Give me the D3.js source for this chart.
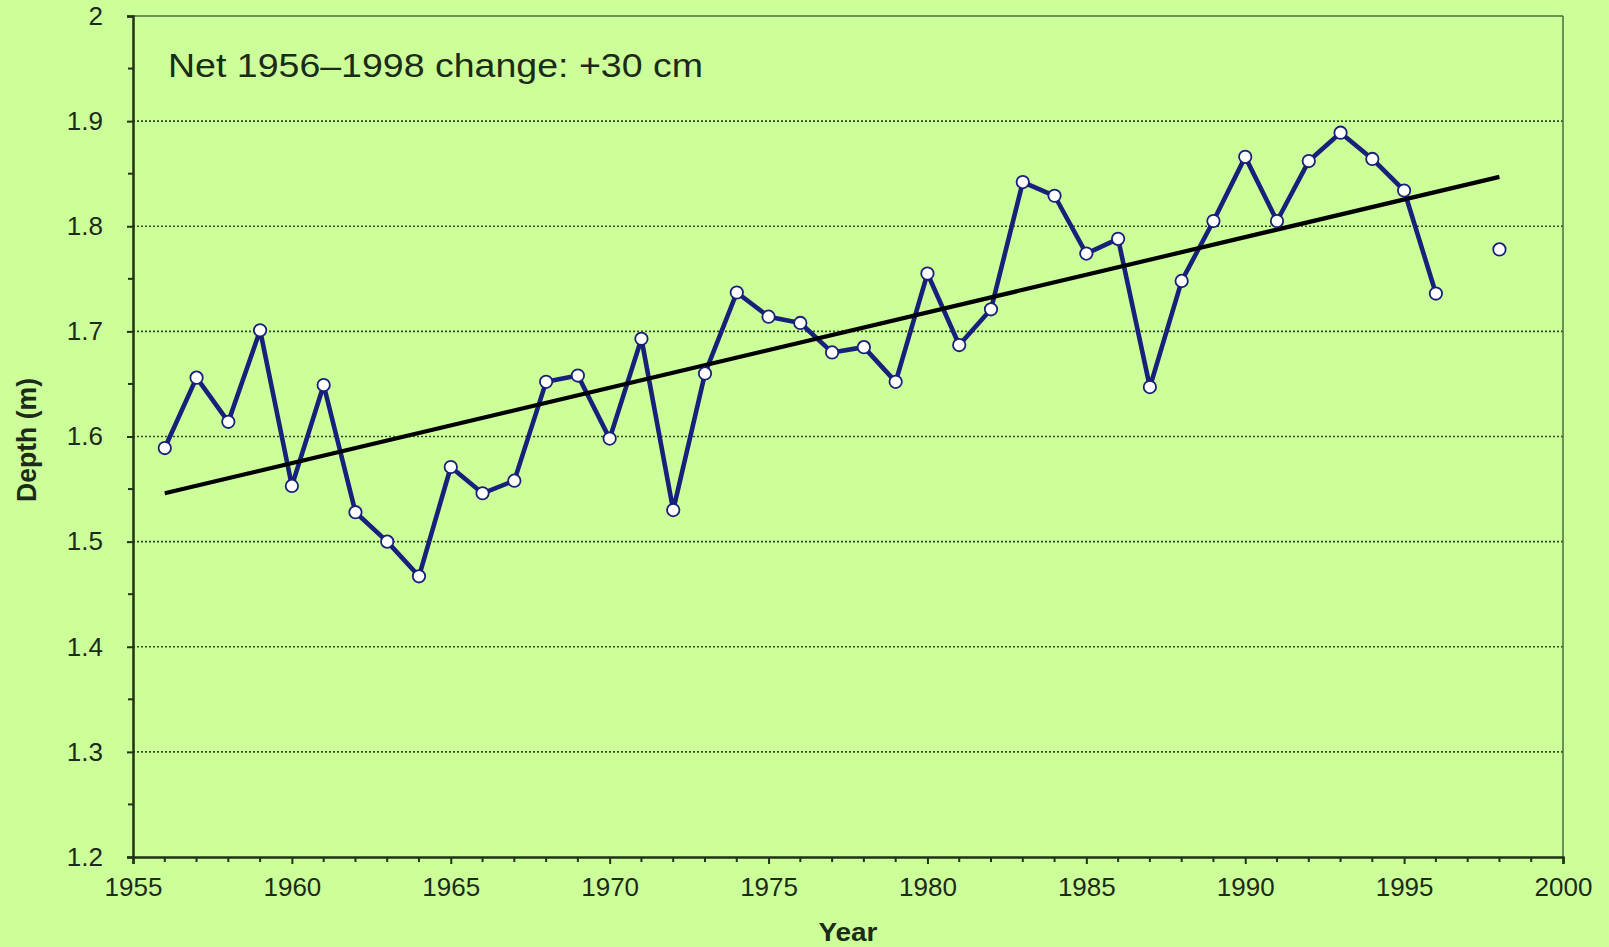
<!DOCTYPE html>
<html>
<head>
<meta charset="utf-8">
<script src="https://cdn.jsdelivr.net/npm/d3@7"></script>
<style>
  html, body { margin: 0; padding: 0; background: #ccff99; }
  svg { display: block; }
  text { font-family: Arial, "Liberation Sans", sans-serif; fill: #1c2a18; }
</style>
</head>
<body>
<svg id="chart" width="1609" height="947"></svg>
<script>
// ---- data ----
const years = [1956,1957,1958,1959,1960,1961,1962,1963,1964,1965,1966,1967,1968,1969,1970,
               1971,1972,1973,1974,1975,1976,1977,1978,1979,1980,1981,1982,1983,1984,1985,
               1986,1987,1988,1989,1990,1991,1992,1993,1994,1995,1996,1997,1998];
const depth = [1.589,1.656,1.614,1.701,1.553,1.649,1.528,1.500,1.467,1.571,1.546,1.558,1.652,1.658,1.598,
               1.693,1.530,1.660,1.737,1.714,1.708,1.680,1.685,1.652,1.755,1.687,1.721,1.842,1.829,1.774,
               1.788,1.647,1.748,1.805,1.866,1.805,1.862,1.889,1.864,1.834,1.736,null,1.778];
const trendYears = [1956, 1998];
const trendValues = [1.546, 1.847];
const xTicks = [1955,1960,1965,1970,1975,1980,1985,1990,1995,2000];
const yTicks = [1.2,1.3,1.4,1.5,1.6,1.7,1.8,1.9,2];
const annotation = "Net 1956\u20131998 change: +30 cm";
const xTitle = "Year";
const yTitle = "Depth (m)";

// ---- layout ----
const L = 133, R = 1563, T = 16, B = 857;
const svg = d3.select("#chart");
const x = d3.scaleLinear().domain([1955, 2000]).range([L, R]);
const y = d3.scaleLinear().domain([1.2, 2]).range([B, T]);

svg.append("rect").attr("width", 1609).attr("height", 947).attr("fill", "#ccff99");

// gridlines
svg.append("g").selectAll("line")
  .data(yTicks.filter(v => v > 1.2 && v < 2))
  .join("line")
  .attr("x1", L).attr("x2", R)
  .attr("y1", d => y(d)).attr("y2", d => y(d))
  .attr("stroke", "#2f4a22").attr("stroke-width", 1.6)
  .attr("stroke-dasharray", "2,2");

// frame top/right
svg.append("line").attr("x1", L).attr("x2", R).attr("y1", T).attr("y2", T)
  .attr("stroke", "#4b6b3a").attr("stroke-width", 1.5);
svg.append("line").attr("x1", R).attr("x2", R).attr("y1", T).attr("y2", B)
  .attr("stroke", "#4b6b3a").attr("stroke-width", 1.5);

// y axis
const yAxis = d3.axisLeft(y).tickValues(yTicks).tickSize(6).tickPadding(24)
  .tickFormat(d => d3.format("")(+d.toFixed(1)));
const gy = svg.append("g").attr("transform", `translate(${L},0)`).call(yAxis);
gy.select(".domain").attr("stroke", "#1e3314").attr("stroke-width", 2.5);
gy.selectAll(".tick line").attr("stroke", "#1e3314").attr("stroke-width", 2);
gy.selectAll(".tick text").attr("font-size", 26).attr("fill", "#26331f")
  .attr("font-family", "Arial, 'Liberation Sans', sans-serif");
// minor y ticks
const yMinor = d3.range(1.25, 2, 0.1);
svg.append("g").selectAll("line").data(yMinor).join("line")
  .attr("x1", L - 5).attr("x2", L).attr("y1", d => y(d)).attr("y2", d => y(d))
  .attr("stroke", "#1e3314").attr("stroke-width", 2);

// x axis
const xAxis = d3.axisBottom(x).tickValues(xTicks).tickSize(7).tickPadding(14).tickFormat(d3.format("d"));
const gx = svg.append("g").attr("transform", `translate(0,${B})`).call(xAxis);
gx.select(".domain").attr("stroke", "#1e3314").attr("stroke-width", 2.5);
gx.selectAll(".tick line").attr("stroke", "#1e3314").attr("stroke-width", 2);
gx.selectAll(".tick text").attr("font-size", 26).attr("fill", "#26331f")
  .attr("font-family", "Arial, 'Liberation Sans', sans-serif");
// minor x ticks
const xMinor = d3.range(1956, 2000).filter(v => v % 5 !== 0);
svg.append("g").selectAll("line").data(xMinor).join("line")
  .attr("x1", d => x(d)).attr("x2", d => x(d)).attr("y1", B).attr("y2", B + 5)
  .attr("stroke", "#1e3314").attr("stroke-width", 2);

// data line
const pts = years.map((yr, i) => ({ yr, v: depth[i] }));
const line = d3.line().defined(d => d.v != null).x(d => x(d.yr)).y(d => y(d.v));
svg.append("path").datum(pts).attr("d", line)
  .attr("fill", "none").attr("stroke", "#17207a").attr("stroke-width", 4.6)
  .attr("stroke-linejoin", "round");

// trend line
const trend = trendYears.map((yr, i) => ({ yr, v: trendValues[i] }));
svg.append("path").datum(trend).attr("d", d3.line().x(d => x(d.yr)).y(d => y(d.v)))
  .attr("fill", "none").attr("stroke", "#000").attr("stroke-width", 4.2);

// markers
svg.append("g").selectAll("circle").data(pts.filter(d => d.v != null)).join("circle")
  .attr("cx", d => x(d.yr)).attr("cy", d => y(d.v)).attr("r", 6.2)
  .attr("fill", "#ffffff").attr("stroke", "#17207a").attr("stroke-width", 1.8);

// annotation
svg.append("text").attr("x", 168).attr("y", 77).attr("font-size", 33).attr("fill", "#111")
  .attr("textLength", 535).attr("lengthAdjust", "spacingAndGlyphs")
  .text(annotation);

// axis titles
svg.append("text").attr("x", 848).attr("y", 941).attr("text-anchor", "middle")
  .attr("font-size", 25).attr("font-weight", "bold").attr("fill", "#111")
  .attr("textLength", 59).attr("lengthAdjust", "spacingAndGlyphs").text(xTitle);
svg.append("text").attr("transform", `translate(36,440) rotate(-90)`)
  .attr("text-anchor", "middle").attr("font-size", 27).attr("font-weight", "bold")
  .attr("fill", "#111").attr("textLength", 124).attr("lengthAdjust", "spacingAndGlyphs")
  .text(yTitle);
</script>
</body>
</html>
